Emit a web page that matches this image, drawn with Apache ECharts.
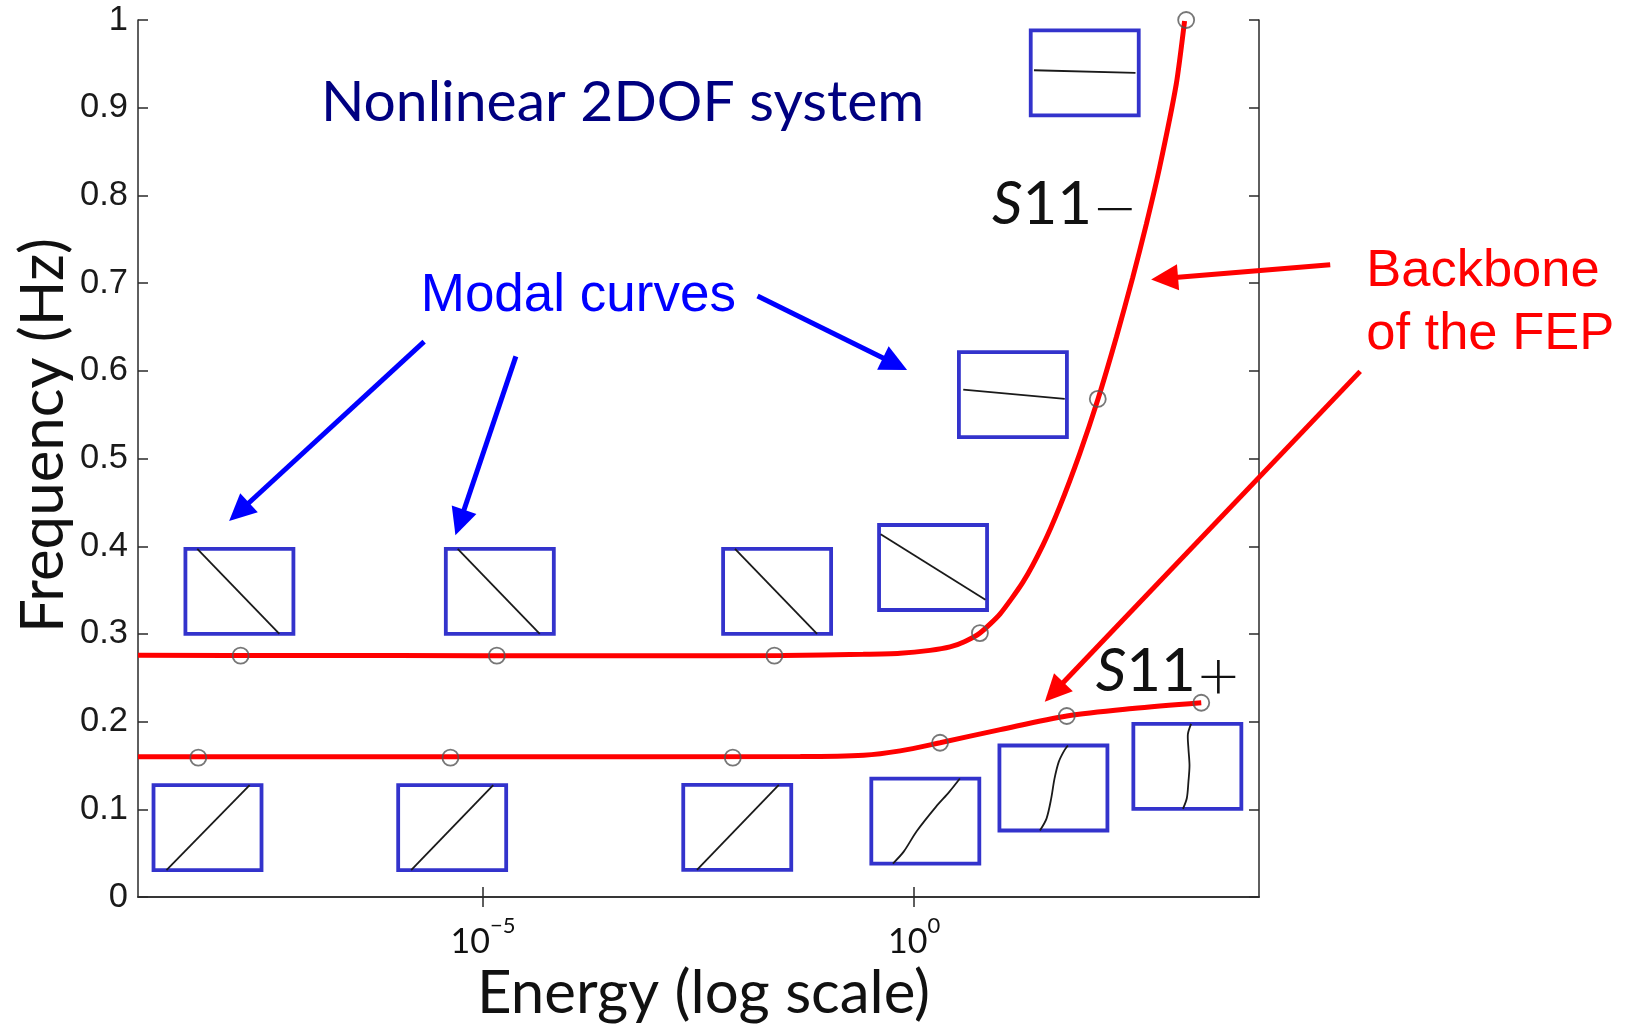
<!DOCTYPE html>
<html><head><meta charset="utf-8">
<script src="https://cdn.jsdelivr.net/npm/echarts@6/dist/echarts.min.js"></script>
<style>html,body{margin:0;padding:0;background:#fff}#c{width:1629px;height:1029px}</style>
</head><body><div id="c"></div>
<script>
// ---------------- data ----------------
// Backbone S11- (upper branch): energy / frequency (Hz)
const upperEnergy = [1e-9, 1e-7, 1e-5, 1e-3, 0.03, 0.257, 0.689, 1.53, 2.61, 3.89, 5.81, 9.9, 18.3, 31.1, 49, 83.4, 135, 222, 343, 493, 703, 1097, 1371];
const upperFreq   = [0.2756, 0.2755, 0.2753, 0.2751, 0.2755, 0.2769, 0.2781, 0.2813, 0.2852, 0.2915, 0.3011, 0.3227, 0.3591, 0.4011, 0.4455, 0.5057, 0.567, 0.6386, 0.7063, 0.767, 0.8318, 0.9267, 0.9989];
// Backbone S11+ (lower branch)
const lowerEnergy = [1e-9, 1e-5, 0.048, 0.26, 0.69, 2.0, 10, 59, 340, 2140];
const lowerFreq   = [0.1599, 0.1599, 0.1602, 0.1617, 0.1667, 0.176, 0.191, 0.2065, 0.215, 0.2216];
// marked solutions (open circles)
const upperPtsEnergy = [1.55e-8, 1.45e-5, 0.024, 5.8, 135, 1430];
const upperPtsFreq   = [0.2753, 0.2753, 0.2753, 0.301, 0.568, 1.0];
const lowerPtsEnergy = [5.0e-9, 4.2e-6, 7.9e-3, 2.0, 59, 2140];
const lowerPtsFreq   = [0.159, 0.159, 0.159, 0.176, 0.2065, 0.2216];
// tick labels
const xTickValues = [1e-5, 1];
const yMin = 0, yMax = 1, yStep = 0.1;
// inset (modal curve) anchors: centre of each small box in data space
const insetEnergy = [1.5e-8, 1.57e-5, 0.0258, 1.66, 14.0, 95.3, 6.4e-9, 4.4e-6, 8.9e-3, 1.35, 41.3, 1476];
const insetFreq   = [0.3485, 0.3485, 0.3485, 0.3758, 0.5728, 0.9398, 0.0791, 0.0791, 0.0795, 0.0867, 0.1244, 0.149];
// modal curve shapes inside each box (normalised box coords, 0..1, y down)
const insetShapes = [
  [[0.11,0],[0.87,1]],
  [[0.11,0],[0.87,1]],
  [[0.11,0],[0.87,1]],
  [[0.015,0.11],[0.985,0.88]],
  [[0.04,0.44],[0.98,0.55]],
  [[0.03,0.47],[0.97,0.50]],
  [[0.12,1],[0.89,0]],
  [[0.12,1],[0.88,0]],
  [[0.127,1],[0.885,0]],
  [[0.2,1],[0.3,0.86],[0.42,0.62],[0.6,0.33],[0.72,0.16],[0.82,0]],
  [[0.375,1],[0.436,0.86],[0.48,0.62],[0.51,0.39],[0.55,0.19],[0.60,0.06],[0.634,0.0]],
  [[0.459,1],[0.495,0.875],[0.51,0.68],[0.52,0.49],[0.51,0.29],[0.505,0.12],[0.535,0.0]]
];
// annotation texts and their anchors (data space)
const annoTexts  = ['Nonlinear 2DOF system', 'Modal curves', 'Backbone', 'of the FEP', '{s|S}{n|11}{m|\u2212}', '{s|S}{n|11}{m|+}'];
const annoEnergy = [4.16e-4, 1.9e-6, 1.75e5, 1.75e5, 8.0, 128];
const annoFreq   = [0.906, 0.685, 0.713, 0.641, 0.790, 0.257];
// arrows: from -> to (data space)
const blueFromE = [2.08e-6, 2.41e-5, 0.0153];
const blueFromF = [0.6333, 0.6165, 0.6852];
const blueToE   = [1.14e-8, 4.8e-6, 0.83];
const blueToF   = [0.4288, 0.4125, 0.601];
const redFromE  = [6.7e4, 1.49e5];
const redFromF  = [0.721, 0.5994];
const redToE    = [561, 32.8];
const redToF    = [0.7042, 0.2227];

// ---------------- styles ----------------
const CM = 'Lato, "Open Sans", sans-serif';
const ARIAL = '"Liberation Sans", Arial, sans-serif';
const annoStyles = [
  {fontFamily: CM, fontSize: 57, fill: '#000080', align: 'center'},
  {fontFamily: ARIAL, fontSize: 53, fill: '#0000ff', align: 'left'},
  {fontFamily: ARIAL, fontSize: 52.5, fill: '#ff0000', align: 'left'},
  {fontFamily: ARIAL, fontSize: 52.5, fill: '#ff0000', align: 'left'},
  {fontFamily: CM, fontSize: 60, fill: '#111', align: 'left'},
  {fontFamily: CM, fontSize: 60, fill: '#111', align: 'left'}
];
const richS = {
  s: {fontFamily: CM, fontSize: 60, fontStyle: 'italic', fill: '#111'},
  n: {fontFamily: CM, fontSize: 60, fill: '#111'},
  m: {fontFamily: '"DejaVu Sans", sans-serif', fontSize: 54, fontWeight: 200, fill: '#111', padding: [16, 0, 0, 0]}
};

const zip = (a, b) => a.map((v, i) => [v, b[i]]);
const zip4 = (a, b, c, d) => a.map((v, i) => [v, b[i], c[i], d[i]]);

function arrowRenderer(color, width) {
  return function (params, api) {
    const p1 = api.coord([api.value(0), api.value(1)]);
    const p2 = api.coord([api.value(2), api.value(3)]);
    const dx = p2[0] - p1[0], dy = p2[1] - p1[1];
    const L = Math.hypot(dx, dy), ux = dx / L, uy = dy / L;
    const hl = 27, hw = 13;
    const bx = p2[0] - ux * hl, by = p2[1] - uy * hl;
    return {type: 'group', children: [
      {type: 'line', shape: {x1: p1[0], y1: p1[1], x2: bx + ux * 3, y2: by + uy * 3},
       style: {stroke: color, lineWidth: width}},
      {type: 'polygon', shape: {points: [[p2[0], p2[1]], [bx - uy * hw, by + ux * hw], [bx + uy * hw, by - ux * hw]]},
       style: {fill: color}}
    ]};
  };
}

const axisColor = '#2a2a2a';
const chart = echarts.init(document.getElementById('c'), null, {renderer: 'canvas'});
const option = {
  backgroundColor: '#fff',
  animation: false,
  grid: {left: 138, top: 20, width: 1121, height: 880, containLabel: false},
  xAxis: [
    {type: 'log', logBase: 10, min: 1e-9, max: 1e4, position: 'bottom',
     axisLine: {show: true, lineStyle: {color: axisColor, width: 1.5}},
     axisTick: {show: true, inside: true, length: 10, customValues: xTickValues, lineStyle: {color: axisColor, width: 1.5}},
     minorTick: {show: false}, splitLine: {show: false},
     axisLabel: {show: true, customValues: xTickValues, margin: 18,
       formatter: v => '{b|10}{s|' + String(Math.round(Math.log10(v))).replace('-', '\u2212') + '}',
       rich: {b: {fontFamily: CM, fontSize: 34, color: '#111', lineHeight: 44, verticalAlign: 'bottom'},
              s: {fontFamily: CM, fontSize: 22, color: '#111', lineHeight: 22, verticalAlign: 'top'}}},
     name: 'Energy (log scale)', nameLocation: 'middle', nameGap: 62,
     nameTextStyle: {fontFamily: CM, fontSize: 60, color: '#111', padding: [0, 0, 0, 10]}},
    {type: 'log', logBase: 10, min: 1e-9, max: 1e4, position: 'top',
     axisLine: {show: true, lineStyle: {color: axisColor, width: 1.5}},
     axisTick: {show: true, inside: true, length: 10, customValues: xTickValues, lineStyle: {color: axisColor, width: 1.5}},
     axisLabel: {show: false}, splitLine: {show: false}}
  ],
  yAxis: [
    {type: 'value', min: yMin, max: yMax, interval: yStep, position: 'left',
     axisLine: {show: true, lineStyle: {color: axisColor, width: 1.5}},
     axisTick: {show: true, inside: true, length: 10, lineStyle: {color: axisColor, width: 1.5}},
     splitLine: {show: false},
     axisLabel: {margin: 10, fontFamily: ARIAL, fontSize: 34.5, color: '#1a1a1a'}},
    {type: 'value', min: yMin, max: yMax, interval: yStep, position: 'right',
     axisLine: {show: true, lineStyle: {color: axisColor, width: 1.5}},
     axisTick: {show: true, inside: true, length: 10, lineStyle: {color: axisColor, width: 1.5}},
     splitLine: {show: false}, axisLabel: {show: false}}
  ],
  graphic: [
    {type: 'text', x: 44, y: 435.5, rotation: Math.PI / 2,
     style: {text: 'Frequency (Hz)', fontFamily: CM, fontSize: 60, fill: '#111', align: 'center', verticalAlign: 'middle'}}
  ],
  series: [
    {name: 'S11- backbone', type: 'line', data: zip(upperEnergy, upperFreq), smooth: 0.2,
     showSymbol: false, symbol: 'none', lineStyle: {color: '#ff0000', width: 5}, z: 2, clip: true},
    {name: 'S11+ backbone', type: 'line', data: zip(lowerEnergy, lowerFreq), smooth: 0.3,
     showSymbol: false, symbol: 'none', lineStyle: {color: '#ff0000', width: 5}, z: 2, clip: true},
    {name: 'S11- points', type: 'scatter', data: zip(upperPtsEnergy, upperPtsFreq), symbol: 'circle', symbolSize: 16,
     itemStyle: {color: 'rgba(255,255,255,0)', borderColor: '#555', borderWidth: 1.8}, z: 3, clip: false},
    {name: 'S11+ points', type: 'scatter', data: zip(lowerPtsEnergy, lowerPtsFreq), symbol: 'circle', symbolSize: 16,
     itemStyle: {color: 'rgba(255,255,255,0)', borderColor: '#555', borderWidth: 1.8}, z: 3, clip: false},
    {name: 'modal curves', type: 'custom', coordinateSystem: 'cartesian2d', clip: false, z: 4,
     data: insetEnergy.map((e, i) => [e, insetFreq[i], i]),
     encode: {x: 0, y: 1},
     renderItem: (params, api) => {
       const c = api.coord([api.value(0), api.value(1)]);
       const w = 108, h = 85;
       const x0 = c[0] - w / 2, y0 = c[1] - h / 2;
       const shp = insetShapes[api.value(2)];
       return {type: 'group', children: [
         {type: 'rect', shape: {x: x0, y: y0, width: w, height: h}, style: {fill: '#fff', stroke: '#3333cc', lineWidth: 3.8}},
         {type: 'polyline', shape: {points: shp.map(p => [x0 + p[0] * w, y0 + p[1] * h]), smooth: shp.length > 2 ? 0.3 : 0},
          style: {stroke: '#1a1a1a', lineWidth: 1.8, fill: null}}
       ]};
     }},
    {name: 'blue arrows', type: 'custom', coordinateSystem: 'cartesian2d', clip: false, z: 5,
     data: zip4(blueFromE, blueFromF, blueToE, blueToF), encode: {x: [0, 2], y: [1, 3]},
     renderItem: arrowRenderer('#0000ff', 5)},
    {name: 'red arrows', type: 'custom', coordinateSystem: 'cartesian2d', clip: false, z: 5,
     data: zip4(redFromE, redFromF, redToE, redToF), encode: {x: [0, 2], y: [1, 3]},
     renderItem: arrowRenderer('#ff0000', 5)},
    {name: 'texts', type: 'custom', coordinateSystem: 'cartesian2d', clip: false, z: 6,
     data: annoEnergy.map((e, i) => [e, annoFreq[i], i]), encode: {x: 0, y: 1},
     renderItem: (params, api) => {
       const i = api.value(2);
       const c = api.coord([api.value(0), api.value(1)]);
       const st = Object.assign({text: annoTexts[i], verticalAlign: 'middle'}, annoStyles[i]);
       if (i >= 4) st.rich = richS;
       return {type: 'text', x: c[0], y: c[1], style: st};
     }}
  ]
};
chart.setOption(option);
</script></body></html>
